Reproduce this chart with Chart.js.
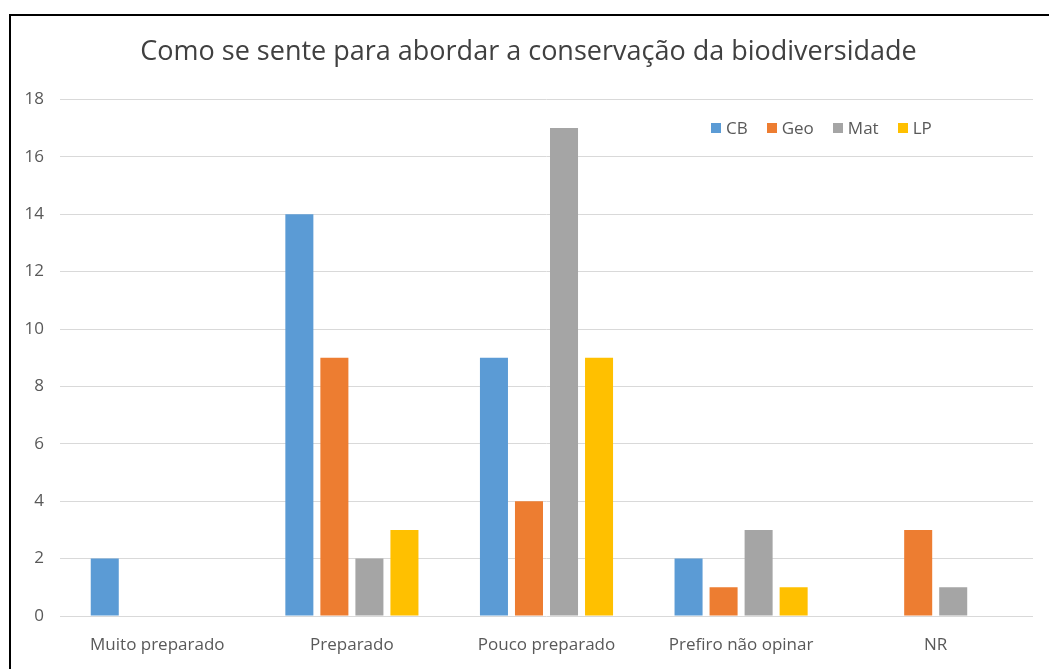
<!DOCTYPE html>
<html>
<head>
<meta charset="utf-8">
<script src="https://cdn.jsdelivr.net/npm/chart.js@4"></script>
<style>
  html, body { margin: 0; padding: 0; background: #fff; overflow: hidden; }
  #wrap { position: relative; width: 1049px; height: 669px; }
  #chart { display: block; }
  #frame { position: absolute; left: 9px; top: 14px; width: 1100px; height: 700px; border: 2px solid #000; }
  #legend { position: absolute; left: 711px; top: 116px; display: flex; font-family: "Open Sans", sans-serif; font-size: 17px; color: #595959; }
  #legend span.item { display: flex; align-items: center; margin-right: 19px; }
  #legend span.box { display: inline-block; width: 10px; height: 10px; margin-right: 5px; }
</style>
</head>
<body>
<div id="wrap">
  <div id="frame"></div>
  <canvas id="chart" width="1049" height="669"></canvas>
  <div id="legend"></div>
</div>
<script>
const categories = ['Muito preparado', 'Preparado', 'Pouco preparado', 'Prefiro não opinar', 'NR'];
const seriesNames = ['CB', 'Geo', 'Mat', 'LP'];
const cb  = [2, 14, 9, 2, 0];
const geo = [0, 9, 4, 1, 3];
const mat = [0, 2, 17, 3, 1];
const lp  = [0, 3, 9, 1, 0];
const colors = ['#5B9BD5', '#ED7D31', '#A5A5A5', '#FFC000'];
const yTicks = [0, 2, 4, 6, 8, 10, 12, 14, 16, 18];

const font = '"Open Sans", sans-serif';
const values = [cb, geo, mat, lp];

const datasets = seriesNames.map((name, i) => ({
  label: name,
  data: values[i],
  backgroundColor: colors[i],
  borderWidth: 0,
  categoryPercentage: 0.72,
  barPercentage: 0.8
}));

const ctx = document.getElementById('chart').getContext('2d');
const chart = new Chart(ctx, {
  type: 'bar',
  data: { labels: categories, datasets },
  options: {
    responsive: false,
    animation: false,
    // extra left padding nudges the title right; y axis kept just wide enough for its labels
    layout: { padding: { left: 24, right: 16, top: 0, bottom: 13 } },
    plugins: {
      legend: { display: false },
      tooltip: { enabled: false },
      title: {
        display: true,
        text: 'Como se sente para abordar a conservação da biodiversidade',
        color: '#404040',
        font: { family: font, size: 27, weight: 'normal' },
        padding: { top: 36, bottom: 31 }
      }
    },
    scales: {
      x: {
        afterFit: scale => { scale.height = 40; },
        grid: { display: false, drawTicks: false },
        border: { display: false },
        ticks: { color: '#595959', font: { family: font, size: 17 }, padding: 19, maxRotation: 0 }
      },
      y: {
        min: 0,
        max: 18,
        afterFit: scale => { scale.width = 36; },
        afterBuildTicks: scale => { scale.ticks = yTicks.map(v => ({ value: v })); },
        grid: { color: '#d9d9d9', lineWidth: 1, drawTicks: false },
        border: { display: false },
        ticks: { color: '#595959', font: { family: font, size: 17 }, padding: 16 }
      }
    }
  }
});

// legend kept as html so it can sit inside the plot area
const legend = document.getElementById('legend');
seriesNames.forEach((name, i) => {
  const item = document.createElement('span');
  item.className = 'item';
  item.innerHTML = `<span class="box" style="background:${colors[i]}"></span>${name}`;
  legend.appendChild(item);
});
</script>
</body>
</html>
